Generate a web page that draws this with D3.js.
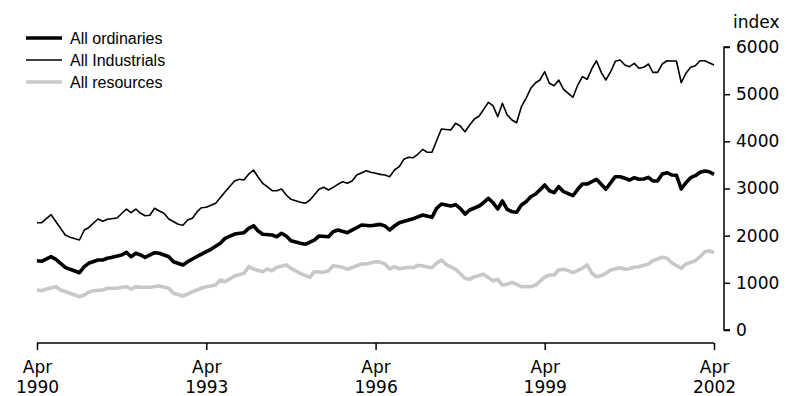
<!DOCTYPE html>
<html><head><meta charset="utf-8">
<script src="https://cdn.jsdelivr.net/npm/d3@7"></script>
<style>
body{margin:0;background:#fff;}
svg{display:block;}
</style></head>
<body>
<svg id="chart" width="787" height="396"></svg>
<script>
// Months counted from April 1990 (0 = Apr 1990, 144 = Apr 2002)
const ordMonths = [0,1,3,4,5,6,7,9,10,11,13,14,15,16,18,19,20,21,22,23,25,26,28,29,31,32,33,35,36,37,39,40,42,44,45,46,47,48,50,51,52,53,54,56,57,59,60,62,63,64,66,68,69,71,73,74,75,76,77,79,80,82,84,85,86,88,89,90,91,92,94,95,96,97,98,99,100,101,102,103,104,105,106,107,108,109,110,111,112,114,115,116,117,118,119,120,121,122,123,124,125,126,127,128,129,130,131,132,133,134,135,136,137,138,139,140,141,142,143,144];
const ordValues = [1469,1456,1554,1499,1414,1329,1287,1215,1342,1414,1484,1484,1520,1541,1590,1647,1554,1626,1590,1541,1639,1626,1554,1448,1378,1448,1505,1610,1660,1711,1838,1944,2035,2063,2156,2211,2105,2029,2014,1978,2050,1993,1893,1838,1817,1908,1993,1978,2084,2120,2063,2169,2226,2211,2240,2205,2120,2205,2275,2332,2360,2438,2389,2580,2671,2629,2657,2580,2459,2544,2629,2699,2792,2699,2565,2735,2559,2508,2495,2650,2720,2826,2883,2970,3074,2953,2911,3038,2932,2847,2983,3095,3095,3144,3195,3089,2983,3123,3250,3250,3216,3180,3229,3195,3201,3237,3159,3159,3307,3335,3286,3280,2989,3123,3229,3271,3343,3371,3356,3301];

const indMonths = [0,1,3,6,7,9,10,11,13,14,15,17,19,20,21,22,23,24,25,26,27,28,30,31,32,33,34,35,36,38,40,42,43,44,45,46,47,48,49,50,51,52,53,54,56,57,58,59,60,61,62,63,64,65,66,67,68,70,71,72,73,74,75,76,77,78,79,80,81,82,83,84,85,86,88,89,90,91,92,93,94,96,97,98,99,100,101,102,103,104,105,106,107,108,109,110,111,112,114,115,116,117,118,119,120,121,122,123,124,125,126,127,128,129,130,131,132,133,134,135,136,137,138,139,140,141,142,144];
const indValues = [2275,2275,2445,2014,1965,1908,2120,2169,2353,2304,2347,2374,2565,2487,2565,2474,2423,2432,2580,2523,2474,2353,2241,2220,2332,2368,2508,2593,2601,2686,2932,3159,3195,3180,3307,3392,3250,3110,3038,2953,2953,2989,2862,2771,2707,2686,2756,2862,2983,3025,2968,3025,3089,3144,3110,3159,3286,3377,3343,3322,3300,3286,3250,3392,3462,3619,3661,3653,3731,3831,3767,3767,4013,4261,4240,4382,4325,4204,4346,4473,4537,4827,4756,4522,4806,4558,4452,4395,4734,4912,5124,5243,5300,5476,5230,5180,5300,5103,4933,5194,5371,5315,5548,5709,5463,5300,5476,5696,5724,5618,5582,5653,5548,5569,5639,5463,5463,5639,5709,5703,5703,5243,5442,5569,5603,5709,5709,5618];

const resMonths = [0,1,2,4,5,7,9,10,11,12,14,15,17,18,19,20,21,22,24,26,28,29,31,32,33,35,36,38,39,40,42,44,45,46,48,49,50,51,53,54,56,58,59,61,62,63,65,66,68,69,70,72,73,74,75,76,77,79,80,81,82,84,85,86,87,89,91,92,93,95,97,98,99,100,101,102,103,105,106,107,108,109,110,111,112,113,114,116,117,118,119,120,121,122,124,125,126,127,128,130,131,133,134,135,137,138,140,141,142,143,144];
const resValues = [848,833,869,918,848,778,706,742,799,833,848,884,884,905,918,869,918,905,905,933,884,778,721,763,812,884,918,954,1060,1024,1145,1202,1342,1293,1236,1293,1257,1329,1378,1308,1202,1117,1236,1223,1257,1363,1329,1287,1363,1399,1399,1448,1440,1399,1293,1342,1300,1329,1321,1371,1357,1321,1414,1484,1393,1287,1096,1075,1130,1181,1045,1075,954,969,1011,969,918,918,954,1030,1120,1166,1166,1272,1287,1257,1215,1308,1378,1202,1130,1151,1202,1272,1321,1287,1300,1329,1342,1399,1469,1541,1520,1427,1308,1399,1469,1554,1660,1681,1639];

const seriesNames = ["All ordinaries","All Industrials","All resources"];
const seriesColors = ["#000000","#000000","#c8c8c8"];
const seriesWidths = [3.6,1.6,3.6];

const yTicks = [0,1000,2000,3000,4000,5000,6000];
const xTickMonths = [0,36,72,108,144];
const xTickLabels = [["Apr","1990"],["Apr","1993"],["Apr","1996"],["Apr","1999"],["Apr","2002"]];
const yUnit = "index";

const start = new Date(1990,3,1);
const toDate = m => d3.timeMonth.offset(start, m);

const svg = d3.select("#chart");
const x = d3.scaleTime().domain([toDate(0), toDate(144)]).range([37, 714]);
const y = d3.scaleLinear().domain([0,6000]).range([330, 47]);

const series = [
  ordMonths.map((m,i)=>({d:toDate(m), v:ordValues[i]})),
  indMonths.map((m,i)=>({d:toDate(m), v:indValues[i]})),
  resMonths.map((m,i)=>({d:toDate(m), v:resValues[i]}))
];

const line = d3.line().x(p=>x(p.d)).y(p=>y(p.v));
// draw resources first, then industrials, then ordinaries on top
[2,1,0].forEach(k=>{
  svg.append("path").datum(series[k])
    .attr("fill","none").attr("stroke",seriesColors[k])
    .attr("stroke-width",seriesWidths[k]).attr("stroke-linejoin","round")
    .attr("d",line);
});

// Y axis on the right
const yAxis = d3.axisRight(y).tickValues(yTicks).tickSize(6).tickPadding(6).tickFormat(d3.format("d"));
const gy = svg.append("g").attr("transform","translate(724,0)").call(yAxis);
gy.select(".domain").attr("d","M6,47H0V330H6").attr("stroke","#000").attr("stroke-width",1.5);
gy.selectAll(".tick line").attr("stroke","#000").attr("stroke-width",1.5);
gy.selectAll(".tick text").attr("font-family","DejaVu Sans").attr("font-size",17).attr("fill","#000");

svg.append("text").attr("x",733).attr("y",28).attr("font-family","DejaVu Sans").attr("font-size",17).text(yUnit);

// X axis
const xAxis = d3.axisBottom(x).tickValues(xTickMonths.map(toDate)).tickSize(7).tickFormat("");
const gx = svg.append("g").attr("transform","translate(0,343)").call(xAxis);
gx.select(".domain").attr("d","M37,0H714").attr("stroke","#000").attr("stroke-width",1.5);
gx.selectAll(".tick line").attr("stroke","#000").attr("stroke-width",1.5);
gx.selectAll(".tick").each(function(d,i){
  const t = d3.select(this).append("text").attr("fill","#000")
    .attr("font-family","DejaVu Sans").attr("font-size",17).attr("text-anchor","middle");
  t.append("tspan").attr("x",0).attr("y",30).text(xTickLabels[i][0]);
  t.append("tspan").attr("x",0).attr("y",50).text(xTickLabels[i][1]);
});

// Legend
const lg = svg.append("g");
seriesNames.forEach((n,i)=>{
  const yy = 38 + i*22;
  lg.append("line").attr("x1",26).attr("x2",62).attr("y1",yy).attr("y2",yy)
    .attr("stroke",seriesColors[i]).attr("stroke-width",seriesWidths[i]);
  lg.append("text").attr("x",70).attr("y",yy+6).attr("font-family","Liberation Sans")
    .attr("font-size",16).attr("fill","#000").text(n);
});
</script>
</body></html>
